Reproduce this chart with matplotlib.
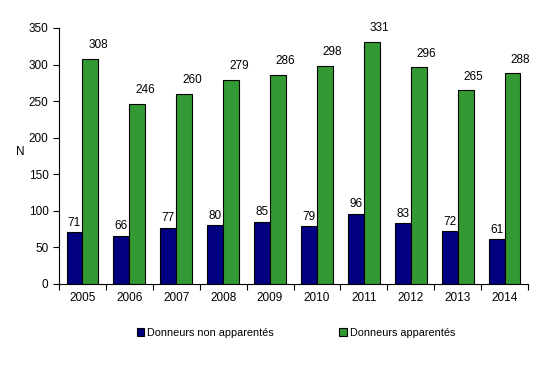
import matplotlib
matplotlib.use("Agg")
import matplotlib.pyplot as plt
import numpy as np

plt.rcParams['font.family'] = ['Liberation Sans', 'DejaVu Sans']

years = ['2005', '2006', '2007', '2008', '2009', '2010', '2011', '2012', '2013', '2014']
non_apparentes = [71, 66, 77, 80, 85, 79, 96, 83, 72, 61]
apparentes = [308, 246, 260, 279, 286, 298, 331, 296, 265, 288]
yticks = [0, 50, 100, 150, 200, 250, 300, 350]

fig = plt.figure(figsize=(5.41, 3.69), dpi=100)
ax = fig.add_axes([59/541, (369-284)/369, (528-59)/541, (284-28)/369])

x = np.arange(len(years))
w = 0.34
b1 = ax.bar(x - w/2, non_apparentes, w, color='#000080', edgecolor='black', linewidth=0.8,
            label='Donneurs non apparentés')
b2 = ax.bar(x + w/2, apparentes, w, color='#339933', edgecolor='black', linewidth=0.8,
            label='Donneurs apparentés')
for r in b1:
    ax.annotate(f"{int(r.get_height())}", (r.get_x() + r.get_width()/2, r.get_height()),
                xytext=(0, 2.5), textcoords='offset points', ha='center', va='bottom', fontsize=8.5)
for r in b2:
    ax.annotate(f"{int(r.get_height())}", (r.get_x() + r.get_width()/2, r.get_height()),
                xytext=(5.5, 5.5), textcoords='offset points', ha='center', va='bottom', fontsize=8.5)

ax.set_xlim(-0.5, len(years) - 0.5)
ax.set_ylim(0, 350)
ax.set_yticks(yticks)
ax.set_xticks(x)
ax.set_xticklabels(years)
ax.set_xticks(np.arange(len(years) + 1) - 0.5, minor=True)
ax.tick_params(axis='x', which='major', length=0, labelsize=8.5, pad=6)
ax.tick_params(axis='x', which='minor', length=4, direction='out', width=0.8)
ax.tick_params(axis='y', length=4, direction='out', labelsize=8.5, width=0.8)
for s in ('top', 'right'):
    ax.spines[s].set_visible(False)
ax.spines['left'].set_linewidth(0.8)
ax.spines['bottom'].set_linewidth(0.8)
ax.set_ylabel('N', rotation=0, fontsize=8.5, va='center', ha='center')
ax.yaxis.set_label_coords(-0.083, 0.516)

fig.legend(handles=[b1, b2], loc='center', bbox_to_anchor=(0.547, 1 - 333/369), ncol=2,
           frameon=False, fontsize=7.8, handlelength=0.7, handleheight=0.7, handletextpad=0.3,
           columnspacing=6.0)

fig.savefig('out.png', dpi=100)
